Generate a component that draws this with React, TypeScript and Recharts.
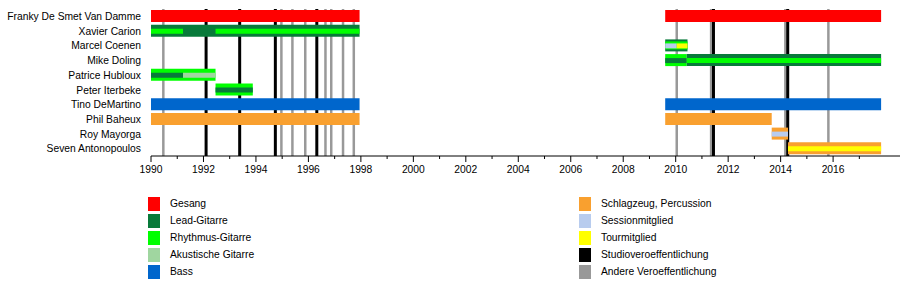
import React from "react";
import { BarChart, Bar, XAxis, YAxis, CartesianGrid, Cell } from "recharts";

const FONT = '"Liberation Sans", Arial, sans-serif';
const FONT_SIZE = 10.3;

const members = [
  "Franky De Smet Van Damme",
  "Xavier Carion",
  "Marcel Coenen",
  "Mike Doling",
  "Patrice Hubloux",
  "Peter Iterbeke",
  "Tino DeMartino",
  "Phil Baheux",
  "Roy Mayorga",
  "Seven Antonopoulos",
];

const years = [
  1990, 1991, 1992, 1993, 1994, 1995, 1996, 1997, 1998, 1999, 2000, 2001, 2002, 2003,
  2004, 2005, 2006, 2007, 2008, 2009, 2010, 2011, 2012, 2013, 2014, 2015, 2016, 2017,
];

const roles = [
  "Gesang",
  "Lead-Gitarre",
  "Rhythmus-Gitarre",
  "Akustische Gitarre",
  "Bass",
  "Schlagzeug, Percussion",
  "Sessionmitglied",
  "Tourmitglied",
  "Studioveroeffentlichung",
  "Andere Veroeffentlichung",
];

const roleColors: Record<string, string> = {
  Gesang: "#ff0000",
  "Lead-Gitarre": "#087a3a",
  "Rhythmus-Gitarre": "#00ff00",
  "Akustische Gitarre": "#a0d6a0",
  Bass: "#0066cc",
  "Schlagzeug, Percussion": "#f9a02f",
  Sessionmitglied: "#b8ccee",
  Tourmitglied: "#ffff00",
  Studioveroeffentlichung: "#000000",
  "Andere Veroeffentlichung": "#999999",
};

// [member, from, to, role]
type Period = [string, number, number, string];

const mainPeriods: Period[] = [
  ["Franky De Smet Van Damme", 1990, 1997.95, "Gesang"],
  ["Franky De Smet Van Damme", 2009.6, 2017.83, "Gesang"],
  ["Xavier Carion", 1990, 1997.95, "Lead-Gitarre"],
  ["Marcel Coenen", 2009.6, 2010.45, "Lead-Gitarre"],
  ["Mike Doling", 2009.6, 2010.42, "Rhythmus-Gitarre"],
  ["Mike Doling", 2010.42, 2017.83, "Lead-Gitarre"],
  ["Patrice Hubloux", 1990, 1992.46, "Rhythmus-Gitarre"],
  ["Peter Iterbeke", 1992.46, 1993.88, "Rhythmus-Gitarre"],
  ["Tino DeMartino", 1990, 1997.95, "Bass"],
  ["Tino DeMartino", 2009.6, 2017.83, "Bass"],
  ["Phil Baheux", 1990, 1997.95, "Schlagzeug, Percussion"],
  ["Phil Baheux", 2009.6, 2013.66, "Schlagzeug, Percussion"],
  ["Roy Mayorga", 2013.66, 2014.28, "Schlagzeug, Percussion"],
  ["Seven Antonopoulos", 2014.28, 2017.83, "Schlagzeug, Percussion"],
];

const middlePeriods: Period[] = [["Marcel Coenen", 2009.6, 2010.45, "Rhythmus-Gitarre"]];

const stripePeriods: Period[] = [
  ["Xavier Carion", 1990, 1991.22, "Rhythmus-Gitarre"],
  ["Xavier Carion", 1992.46, 1997.95, "Rhythmus-Gitarre"],
  ["Marcel Coenen", 2009.6, 2010.04, "Sessionmitglied"],
  ["Marcel Coenen", 2010.04, 2010.45, "Tourmitglied"],
  ["Mike Doling", 2009.6, 2010.42, "Lead-Gitarre"],
  ["Mike Doling", 2010.42, 2017.83, "Rhythmus-Gitarre"],
  ["Patrice Hubloux", 1990, 1991.22, "Lead-Gitarre"],
  ["Patrice Hubloux", 1991.22, 1992.46, "Akustische Gitarre"],
  ["Peter Iterbeke", 1992.46, 1993.88, "Lead-Gitarre"],
  ["Roy Mayorga", 2013.66, 2014.28, "Sessionmitglied"],
  ["Seven Antonopoulos", 2014.28, 2017.83, "Tourmitglied"],
];

const studioReleases = [1992.1, 1993.38, 1994.74, 1996.32, 2011.44, 2014.27];
const otherReleases = [
  1990.47, 1994.97, 1995.39, 1995.88, 1996.65, 1996.87, 1997.32, 1997.73, 2010.04, 2011.35,
  2014.18, 2015.82,
];

// one Bar per layer and slot, each on its own hidden category axis so they stay centred
const layers = [
  { key: "main", periods: mainPeriods, size: 12 },
  { key: "mid", periods: middlePeriods, size: 8 },
  { key: "stripe", periods: stripePeriods, size: 5 },
];

type Series = { id: string; size: number };
const series: Series[] = [];
const rows: any[] = members.map((name) => ({ name }));

layers.forEach((layer) => {
  const counts: Record<string, number> = {};
  layer.periods.forEach(([member, from, to, role]) => {
    const slot = counts[member] || 0;
    counts[member] = slot + 1;
    const id = `${layer.key}${slot}`;
    if (!series.find((s) => s.id === id)) series.push({ id, size: layer.size });
    const row = rows[members.indexOf(member)];
    row[id] = [from, to];
    row[`${id}Role`] = role;
  });
});

function YearTick({ x, y, payload }: any) {
  const year = payload.value;
  const major = year % 2 === 0;
  return (
    <g>
      <line x1={x} x2={x} y1={y} y2={y + (major ? 6 : 3)} stroke="#000" />
      {major && (
        <text x={x} y={y + 17} textAnchor="middle" fontSize={FONT_SIZE} fill="#000" fontFamily={FONT}>
          {year}
        </text>
      )}
    </g>
  );
}

function NameTick({ x, y, payload }: any) {
  return (
    <text x={x} y={y} dy="0.36em" textAnchor="end" fontSize={FONT_SIZE} fill="#000" fontFamily={FONT}>
      {payload.value}
    </text>
  );
}

function LegendBlock() {
  return (
    <div
      style={{
        position: "absolute",
        left: 0,
        top: 0,
        width: 900,
        height: 304,
        fontFamily: FONT,
        fontSize: FONT_SIZE,
      }}
    >
      {roles.map((role, i) => {
        const col = i < 5 ? 0 : 1;
        const cy = 204 + (i % 5) * 16.9;
        const sx = col === 0 ? 148 : 579;
        return (
          <React.Fragment key={role}>
            <div
              style={{
                position: "absolute",
                left: sx,
                top: cy - 7,
                width: 12,
                height: 14,
                background: roleColors[role],
              }}
            />
            <div
              style={{
                position: "absolute",
                left: sx + 22,
                top: cy - 7,
                lineHeight: "14px",
                color: "#000",
                whiteSpace: "nowrap",
              }}
            >
              {role}
            </div>
          </React.Fragment>
        );
      })}
    </div>
  );
}

export default function App() {
  return (
    <div style={{ position: "absolute", left: 0, top: 0, width: 900, height: 304, background: "#fff" }}>
      <BarChart
        width={900}
        height={185}
        data={rows}
        layout="vertical"
        margin={{ top: 9, right: 0, bottom: 0, left: 0 }}
        style={{ fontFamily: FONT }}
      >
        {/* release markers as grid lines so they sit behind the bars */}
        <CartesianGrid
          yAxisId="names"
          horizontal={false}
          stroke="#999999"
          strokeWidth={2.5}
          verticalValues={otherReleases}
          zIndex={-100}
        />
        <CartesianGrid
          yAxisId="names"
          horizontal={false}
          stroke="#000000"
          strokeWidth={3}
          verticalValues={studioReleases}
          zIndex={-90}
        />
        <XAxis
          type="number"
          domain={[1990, 2018.55]}
          allowDataOverflow
          ticks={years}
          interval={0}
          height={29}
          tickSize={0}
          tickMargin={0}
          tickLine={false}
          axisLine={{ stroke: "#000" }}
          tick={<YearTick />}
        />
        <YAxis
          yAxisId="names"
          type="category"
          dataKey="name"
          width={151}
          interval={0}
          axisLine={false}
          tickLine={false}
          tickSize={0}
          tickMargin={10}
          tick={<NameTick />}
        />
        {series.map((s) => (
          <YAxis key={s.id} yAxisId={s.id} type="category" dataKey="name" orientation="right" width={0} hide />
        ))}
        {series.map((s) => (
          <Bar key={s.id} yAxisId={s.id} dataKey={s.id} barSize={s.size} isAnimationActive={false}>
            {rows.map((row, i) => (
              <Cell key={i} fill={roleColors[row[`${s.id}Role`]] || "transparent"} />
            ))}
          </Bar>
        ))}
      </BarChart>
      <LegendBlock />
    </div>
  );
}
